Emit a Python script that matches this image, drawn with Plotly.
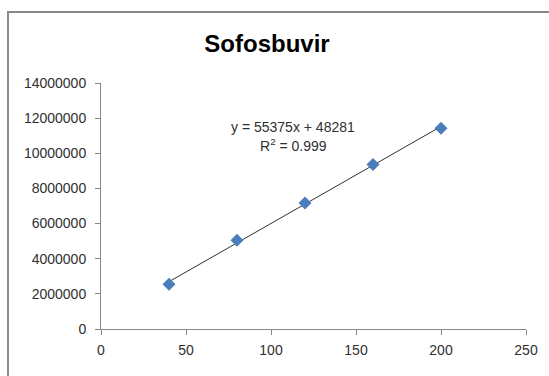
import numpy as np
import plotly.graph_objects as go

# Data
concentration = [40, 80, 120, 160, 200]
peak_area = [2540000, 5050000, 7170000, 9360000, 11430000]
x_ticks = [0, 50, 100, 150, 200, 250]
y_ticks = [0, 2000000, 4000000, 6000000, 8000000, 10000000, 12000000, 14000000]
title_text = "Sofosbuvir"
equation_line1 = "y = 55375x + 48281"
equation_line2 = "R<sup>2</sup> = 0.999"

W, H = 549, 376
ML, MR, MT, MB = 101, 23, 83, 47
pw = W - ML - MR
ph = H - MT - MB

# linear trendline from the data
slope, intercept = np.polyfit(concentration, peak_area, 1)
tx = [min(concentration), max(concentration)]
ty = [slope * v + intercept for v in tx]

fig = go.Figure()
fig.add_trace(go.Scatter(x=tx, y=ty, mode="lines",
                         line=dict(color="#303030", width=1), hoverinfo="skip"))
fig.add_trace(go.Scatter(x=concentration, y=peak_area, mode="markers",
                         marker=dict(symbol="diamond", size=10, color="#4A7EBB",
                                     line=dict(width=0))))

font_family = "Liberation Sans, Arial, sans-serif"
axis_common = dict(showgrid=False, zeroline=False, showline=True,
                   linecolor="#868686", linewidth=1, ticks="outside",
                   ticklen=5, tickcolor="#868686", tickwidth=1,
                   tickfont=dict(family=font_family, size=14, color="#303030"))

fig.update_layout(
    width=W, height=H,
    margin=dict(l=ML, r=MR, t=MT, b=MB, pad=0),
    paper_bgcolor="white", plot_bgcolor="white",
    showlegend=False,
    xaxis=dict(range=[0, 250], tickvals=x_ticks, ticktext=[str(v) for v in x_ticks],
               ticklabelstandoff=3, **axis_common),
    yaxis=dict(range=[0, 14000000], tickvals=y_ticks, ticktext=[str(v) for v in y_ticks],
               ticklabelstandoff=6, **axis_common),
    title=dict(text="<b>" + title_text + "</b>", x=267 / W, xref="container",
               y=1 - 44 / H, yref="container", xanchor="center", yanchor="middle",
               font=dict(family=font_family, size=24, color="#000000")),
    annotations=[
        dict(text=equation_line1, xref="paper", yref="paper",
             x=(292.5 - ML) / pw, y=(H - MB - 127) / ph,
             xanchor="center", yanchor="middle", showarrow=False,
             font=dict(family=font_family, size=14, color="#303030")),
        dict(text=equation_line2, xref="paper", yref="paper",
             x=(293 - ML) / pw, y=(H - MB - 145) / ph,
             xanchor="center", yanchor="middle", showarrow=False,
             font=dict(family=font_family, size=14, color="#303030")),
    ],
    shapes=[dict(type="rect", xref="paper", yref="paper",
                 x0=(8 - ML) / pw, x1=(W + 20 - ML) / pw,
                 y0=(H - MB - (H + 20)) / ph, y1=(H - MB - 12) / ph,
                 line=dict(color="#8a8a8a", width=2), fillcolor="rgba(0,0,0,0)",
                 layer="below")],
)

fig.write_html("out.html")
